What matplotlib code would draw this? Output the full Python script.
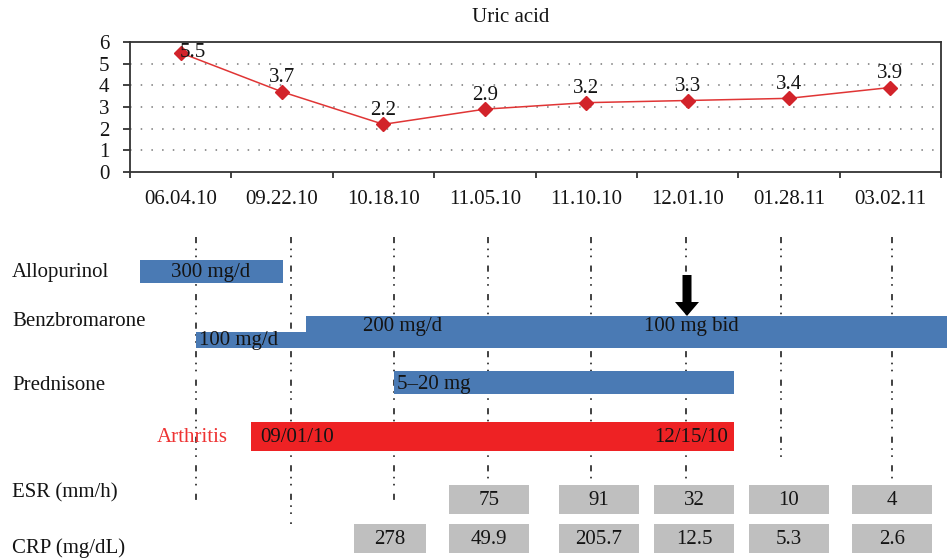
import matplotlib
matplotlib.use("Agg")
import matplotlib.pyplot as plt
from matplotlib.patches import Rectangle, FancyArrow

plt.rcParams['font.family'] = ['Liberation Serif', 'DejaVu Serif']
FS = 15

# ---------------- data ----------------
dates = ['06.04.10', '09.22.10', '10.18.10', '11.05.10', '11.10.10', '12.01.10', '01.28.11', '03.02.11']
uric = [5.5, 3.7, 2.2, 2.9, 3.2, 3.3, 3.4, 3.9]

# lower timeline (schematic units, same scale as figure width)
visit_x = [196, 291, 394, 488, 591, 686, 781, 892]
visit_line_end = [504, 524, 504, 483, 483, 483, 457, 483]
visit_line_start = 237

row_labels = ['Allopurinol', 'Benzbromarone', 'Prednisone', 'ESR (mm/h)', 'CRP (mg/dL)']
row_label_y = [273, 322, 385, 493, 548]

# treatment bars: (start, end, top, bottom)
allo_bar = (140, 283, 260, 283)
benz_bars = [(196, 306, 332, 348), (306, 947, 316, 348)]
pred_bar = (394, 734, 371, 394)
arth_bar = (251, 734, 422, 451)

bar_texts = [('300 mg/d', 211, 273, 'center'),
             ('100 mg/d', 199, 341, 'left'),
             ('200 mg/d', 403, 326, 'center'),
             ('100 mg bid', 691, 326, 'center'),
             ('5–20 mg', 397, 384, 'left')]
arth_texts = [('09/01/10', 260, 437, 'left'), ('12/15/10', 728, 437, 'right')]

esr_vals = ['75', '91', '32', '10', '4']
esr_x0 = [449, 559, 654, 749, 852]
esr_w = [80, 80, 80, 80, 80]
esr_y = (485, 514)

crp_vals = ['278', '49.9', '205.7', '12.5', '5.3', '2.6']
crp_x0 = [354, 449, 559, 654, 749, 852]
crp_w = [72, 80, 80, 80, 80, 80]
crp_y = (524, 553)

arrow_x, arrow_top, arrow_tip = 687, 275, 316

BLUE = '#4a7ab4'
RED = '#ee2224'
GRAY = '#bfbfbf'
TXT = '#141414'

W, H = 947, 560
fig = plt.figure(figsize=(W / 100, H / 100), dpi=100)

# ---------------- top chart ----------------
L, R, T, B = 130, 941, 42, 172
ax = fig.add_axes([L / W, 1 - B / H, (R - L) / W, (B - T) / H])
xs = list(range(len(dates)))
ax.plot(xs, uric, color='#e03535', lw=1.1, marker='D', ms=7,
        mfc='#d2232a', mec='#d2232a', zorder=3)
for i, v in enumerate(uric):
    off = (9, 0.5) if i == 0 else (0, 10)
    ax.annotate(f'{v}', (i, v), xytext=off, textcoords='offset points',
                ha='center', va='center', fontsize=FS, color=TXT)
ax.set_xlim(-0.5, len(dates) - 0.5)
ax.set_ylim(0, 6)
ax.set_yticks(range(0, 7))
ax.set_xticks([i - 0.5 for i in range(len(dates) + 1)])
ax.set_xticklabels([])
ax.set_xticks(xs, minor=True)
ax.set_xticklabels(dates, minor=True, fontsize=FS, color=TXT)
ax.tick_params(axis='x', which='major', direction='out', length=4, width=1.3, color='#333333')
ax.tick_params(axis='x', which='minor', length=0, pad=13)
ax.tick_params(axis='y', direction='out', length=5, width=1.3, color='#333333',
               labelsize=FS, labelcolor=TXT, pad=10)
for y in range(1, 6):
    ax.axhline(y, color='#777777', lw=1.1, ls=(0, (1, 6)), zorder=1)
for s in ax.spines.values():
    s.set_color('#333333')
    s.set_linewidth(1.3)
fig.text(511 / W, 1 - 17 / H, 'Uric acid', ha='center', va='center', fontsize=FS, color=TXT)

# ---------------- lower timeline ----------------
ax2 = fig.add_axes([0, 0, 1, 1], zorder=-1)
ax2.set_xlim(0, W)
ax2.set_ylim(H, 0)
ax2.axis('off')
ax2.patch.set_alpha(0)

for x, e in zip(visit_x, visit_line_end):
    ax2.plot([x, x], [visit_line_start, e], color='#333333', lw=1.3,
             ls=(0, (3.4, 3.0, 0.9, 3.0, 0.9, 4.6)), zorder=1)

def rect(b, color):
    x0, x1, y0, y1 = b
    ax2.add_patch(Rectangle((x0, y0), x1 - x0, y1 - y0, facecolor=color,
                            edgecolor='none', zorder=2, clip_on=False))

rect(allo_bar, BLUE)
for b in benz_bars:
    rect(b, BLUE)
rect(pred_bar, BLUE)
rect(arth_bar, RED)

for t, x, y, ha in bar_texts + arth_texts:
    ax2.text(x, y, t, ha=ha, va='center', fontsize=FS, color=TXT, zorder=4)

ax2.text(157, 437, 'Arthritis', ha='left', va='center', fontsize=FS, color='#ee3333', zorder=4)

for t, y in zip(row_labels, row_label_y):
    ax2.text(12, y, t, ha='left', va='center', fontsize=FS, color=TXT, zorder=4)

for v, x0, w in zip(esr_vals, esr_x0, esr_w):
    rect((x0, x0 + w, esr_y[0], esr_y[1]), GRAY)
    ax2.text(x0 + w / 2, (esr_y[0] + esr_y[1]) / 2 + 1, v, ha='center', va='center',
             fontsize=FS, color=TXT, zorder=4)
for v, x0, w in zip(crp_vals, crp_x0, crp_w):
    rect((x0, x0 + w, crp_y[0], crp_y[1]), GRAY)
    ax2.text(x0 + w / 2, (crp_y[0] + crp_y[1]) / 2 + 1, v, ha='center', va='center',
             fontsize=FS, color=TXT, zorder=4)

ax2.add_patch(FancyArrow(arrow_x, arrow_top, 0, arrow_tip - arrow_top, width=9,
                         head_width=24, head_length=14, length_includes_head=True,
                         facecolor='black', edgecolor='none', zorder=5))

fig.savefig('out.png', dpi=100)
